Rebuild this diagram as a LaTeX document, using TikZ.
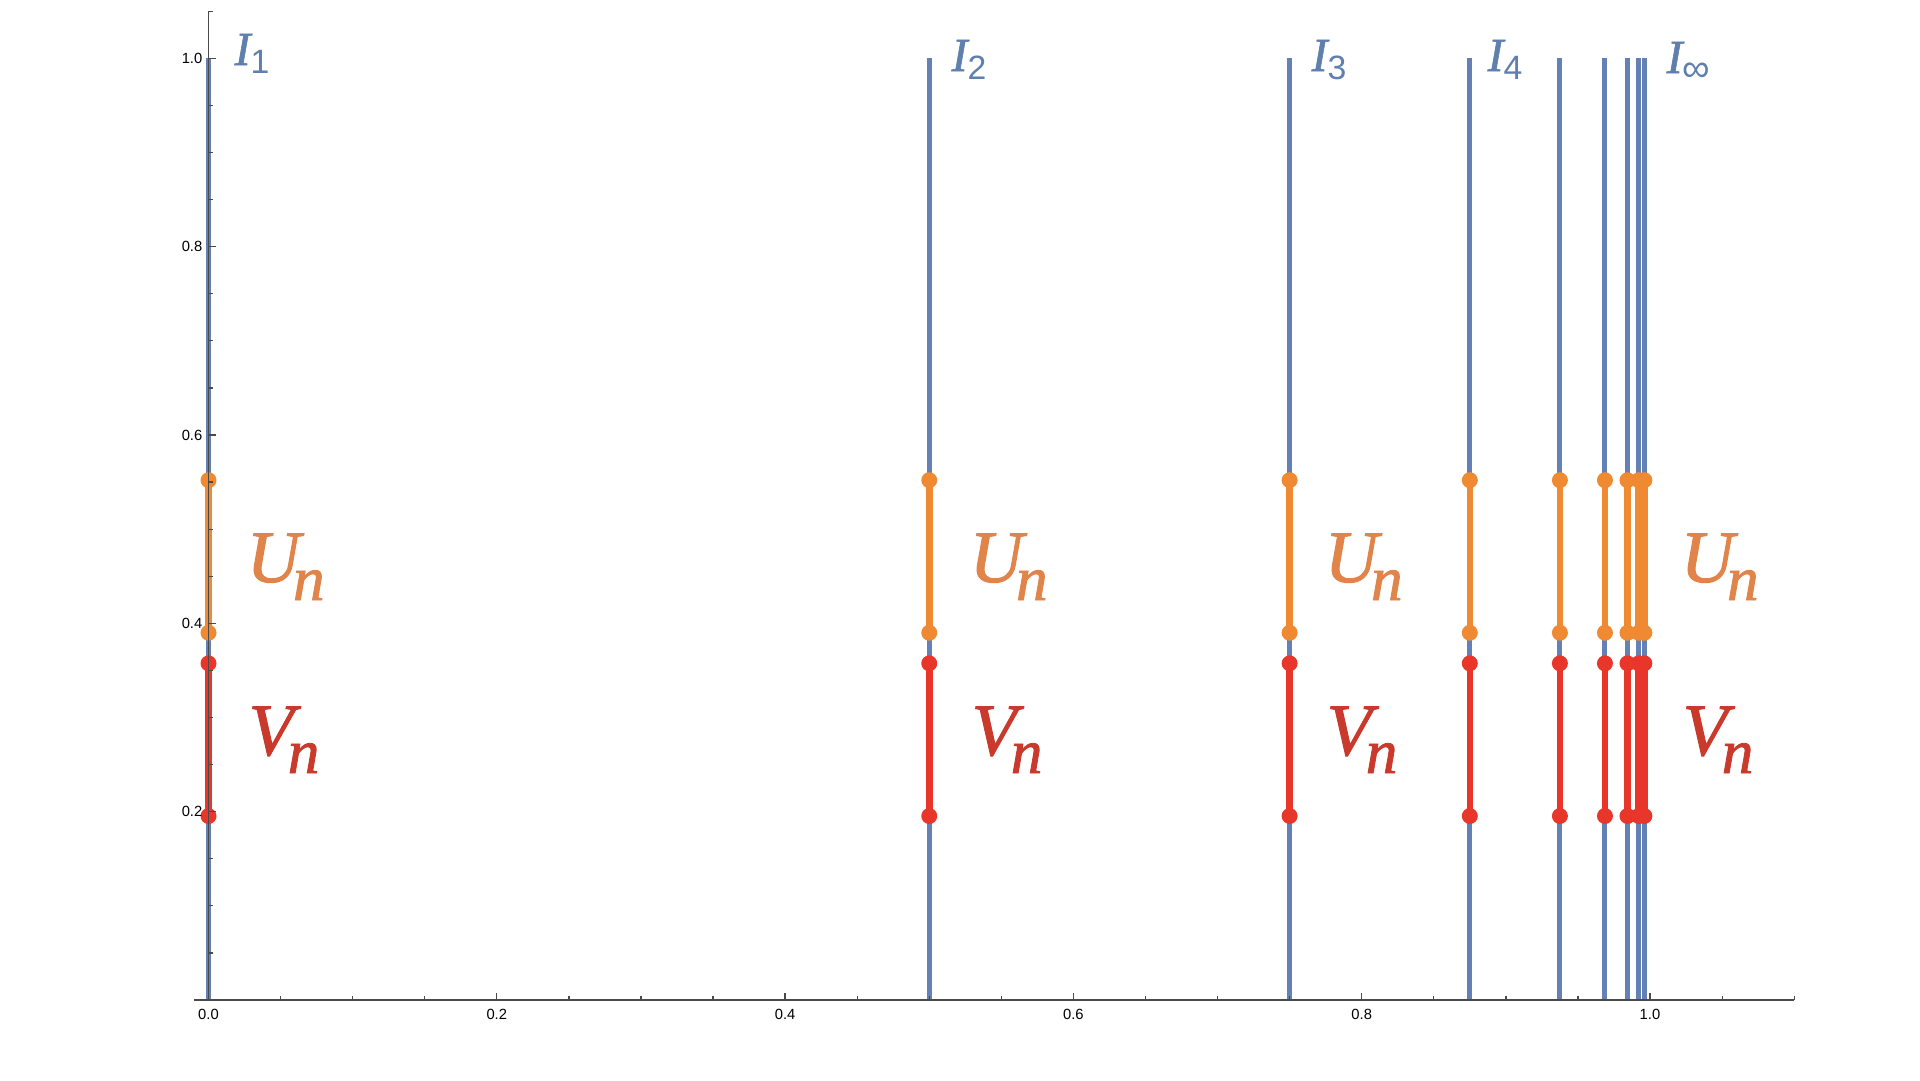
\documentclass[tikz,border=0pt]{standalone}
\usepackage{fontspec}
\setmainfont{Liberation Serif}
\setsansfont{Liberation Sans}
\newfontfamily\labfont[FakeBold=1.3]{Liberation Serif}
\definecolor{lineblue}{HTML}{6381B4}
\definecolor{labblue}{HTML}{5F7FAE}
\definecolor{lineorange}{HTML}{EF8A33}
\definecolor{laborange}{HTML}{E0844A}
\definecolor{linered}{HTML}{E8372A}
\definecolor{labred}{HTML}{C93A2C}
\definecolor{axisgray}{HTML}{4A4A4A}
\tikzset{
  axisline/.style={draw=axisgray, line width=0.35pt},
  ticklab/.style={inner sep=0pt, font=\sffamily\fontsize{4.2}{5}\selectfont, text=black},
  bluebar/.style={draw=lineblue, line width=0.5mm},
  orangebar/.style={draw=lineorange, line width=0.65mm},
  redbar/.style={draw=linered, line width=0.65mm},
  dotO/.style={fill=lineorange},
  dotR/.style={fill=linered},
  lab/.style={inner sep=0pt, anchor=base west},
}
\newcommand{\Ilab}[1]{{\fontsize{13.5}{13}\selectfont\labfont\itshape I}\raisebox{-0.8mm}{\fontsize{9.6}{9}\selectfont\sffamily #1}}
\newcommand{\Ilabinf}{{\fontsize{13.5}{13}\selectfont\labfont\itshape I}\raisebox{-0.8mm}{\fontsize{11}{9}\selectfont\sffamily ∞}}
\newcommand{\Ulab}{{\fontsize{21}{21}\selectfont\labfont\itshape U}\kern-0.7mm\raisebox{-1.8mm}{\fontsize{18}{18}\selectfont\labfont\itshape n}}
\newcommand{\Vlab}{{\fontsize{21}{21}\selectfont\labfont\itshape V}\kern-0.6mm\raisebox{-1.8mm}{\fontsize{18}{18}\selectfont\labfont\itshape n}}
\begin{document}
\begin{tikzpicture}[x=0.1mm, y=-0.1mm]
\useasboundingbox[fill=white] (0,0) rectangle (1920,1080);
\begin{scope}[shift={(208.5,1000)}]
\begin{scope}[x=144.15mm, y=94.17mm]
  % blue vertical lines
  \foreach \n in {0,...,8} {
    \pgfmathsetmacro{\d}{1-2^(-\n)}
    \coordinate (b\n) at (\d,0);
    \coordinate (t\n) at (\d,1);
    \draw[bluebar] (b\n) -- (t\n);
  }
  % orange and red segments
  \foreach \n in {0,...,8} {
    \pgfmathsetmacro{\d}{1-2^(-\n)}
    \coordinate (uo\n) at (\d,0.552);
    \coordinate (lo\n) at (\d,0.390);
    \coordinate (ur\n) at (\d,0.3575);
    \coordinate (lr\n) at (\d,0.1954);
    \draw[orangebar] (lo\n) -- (uo\n);
    \draw[redbar] (lr\n) -- (ur\n);
    \fill[dotO] (uo\n) circle[radius=0.8mm];
    \fill[dotO] (lo\n) circle[radius=0.8mm];
    \fill[dotR] (ur\n) circle[radius=0.8mm];
    \fill[dotR] (lr\n) circle[radius=0.8mm];
  }
  % axes
  \coordinate (xa) at (-0.01,0);
  \coordinate (xb) at (1.1,0);
  \coordinate (ya) at (0,0);
  \coordinate (yb) at (0,1.05);
  \draw[axisline] (xa) -- (xb);
  \draw[axisline] (ya) -- (yb);
  \foreach \i in {1,...,22} {
    \draw[axisline] (\i*0.05,0) -- ++(0,0.4mm);
  }
  \foreach \v in {0.0,0.2,0.4,0.6,0.8,1.0} {
    \draw[axisline] (\v,0) -- ++(0,0.75mm);
    \node[ticklab] (xl\v) at ([yshift=-1.45mm]\v,0) {\v};
  }
  \foreach \i in {1,...,21} {
    \draw[axisline] (0,\i*0.05) -- ++(0.4mm,0);
  }
  \foreach \v in {0.2,0.4,0.6,0.8,1.0} {
    \draw[axisline] (0,\v) -- ++(0.75mm,0);
    \node[ticklab, anchor=east] (yl\v) at ([xshift=-0.55mm]0,\v) {\v};
  }
\end{scope}
\end{scope}
% I labels
\node[lab, text=labblue] (I1) at (234,65) {\Ilab{1}};
\node[lab, text=labblue] (I2) at (951,71) {\Ilab{2}};
\node[lab, text=labblue] (I3) at (1311,71) {\Ilab{3}};
\node[lab, text=labblue] (I4) at (1487,71) {\Ilab{4}};
\node[lab, text=labblue] (Iinf) at (1666,73) {\Ilabinf};
% U labels
\node[lab, text=laborange] (U1) at (246,582) {\Ulab};
\node[lab, text=laborange] (U2) at (969,582) {\Ulab};
\node[lab, text=laborange] (U3) at (1324,582) {\Ulab};
\node[lab, text=laborange] (U4) at (1680,582) {\Ulab};
% V labels
\node[lab, text=labred] (V1) at (248,755) {\Vlab};
\node[lab, text=labred] (V2) at (971,755) {\Vlab};
\node[lab, text=labred] (V3) at (1326,755) {\Vlab};
\node[lab, text=labred] (V4) at (1682,755) {\Vlab};
\end{tikzpicture}
\end{document}
